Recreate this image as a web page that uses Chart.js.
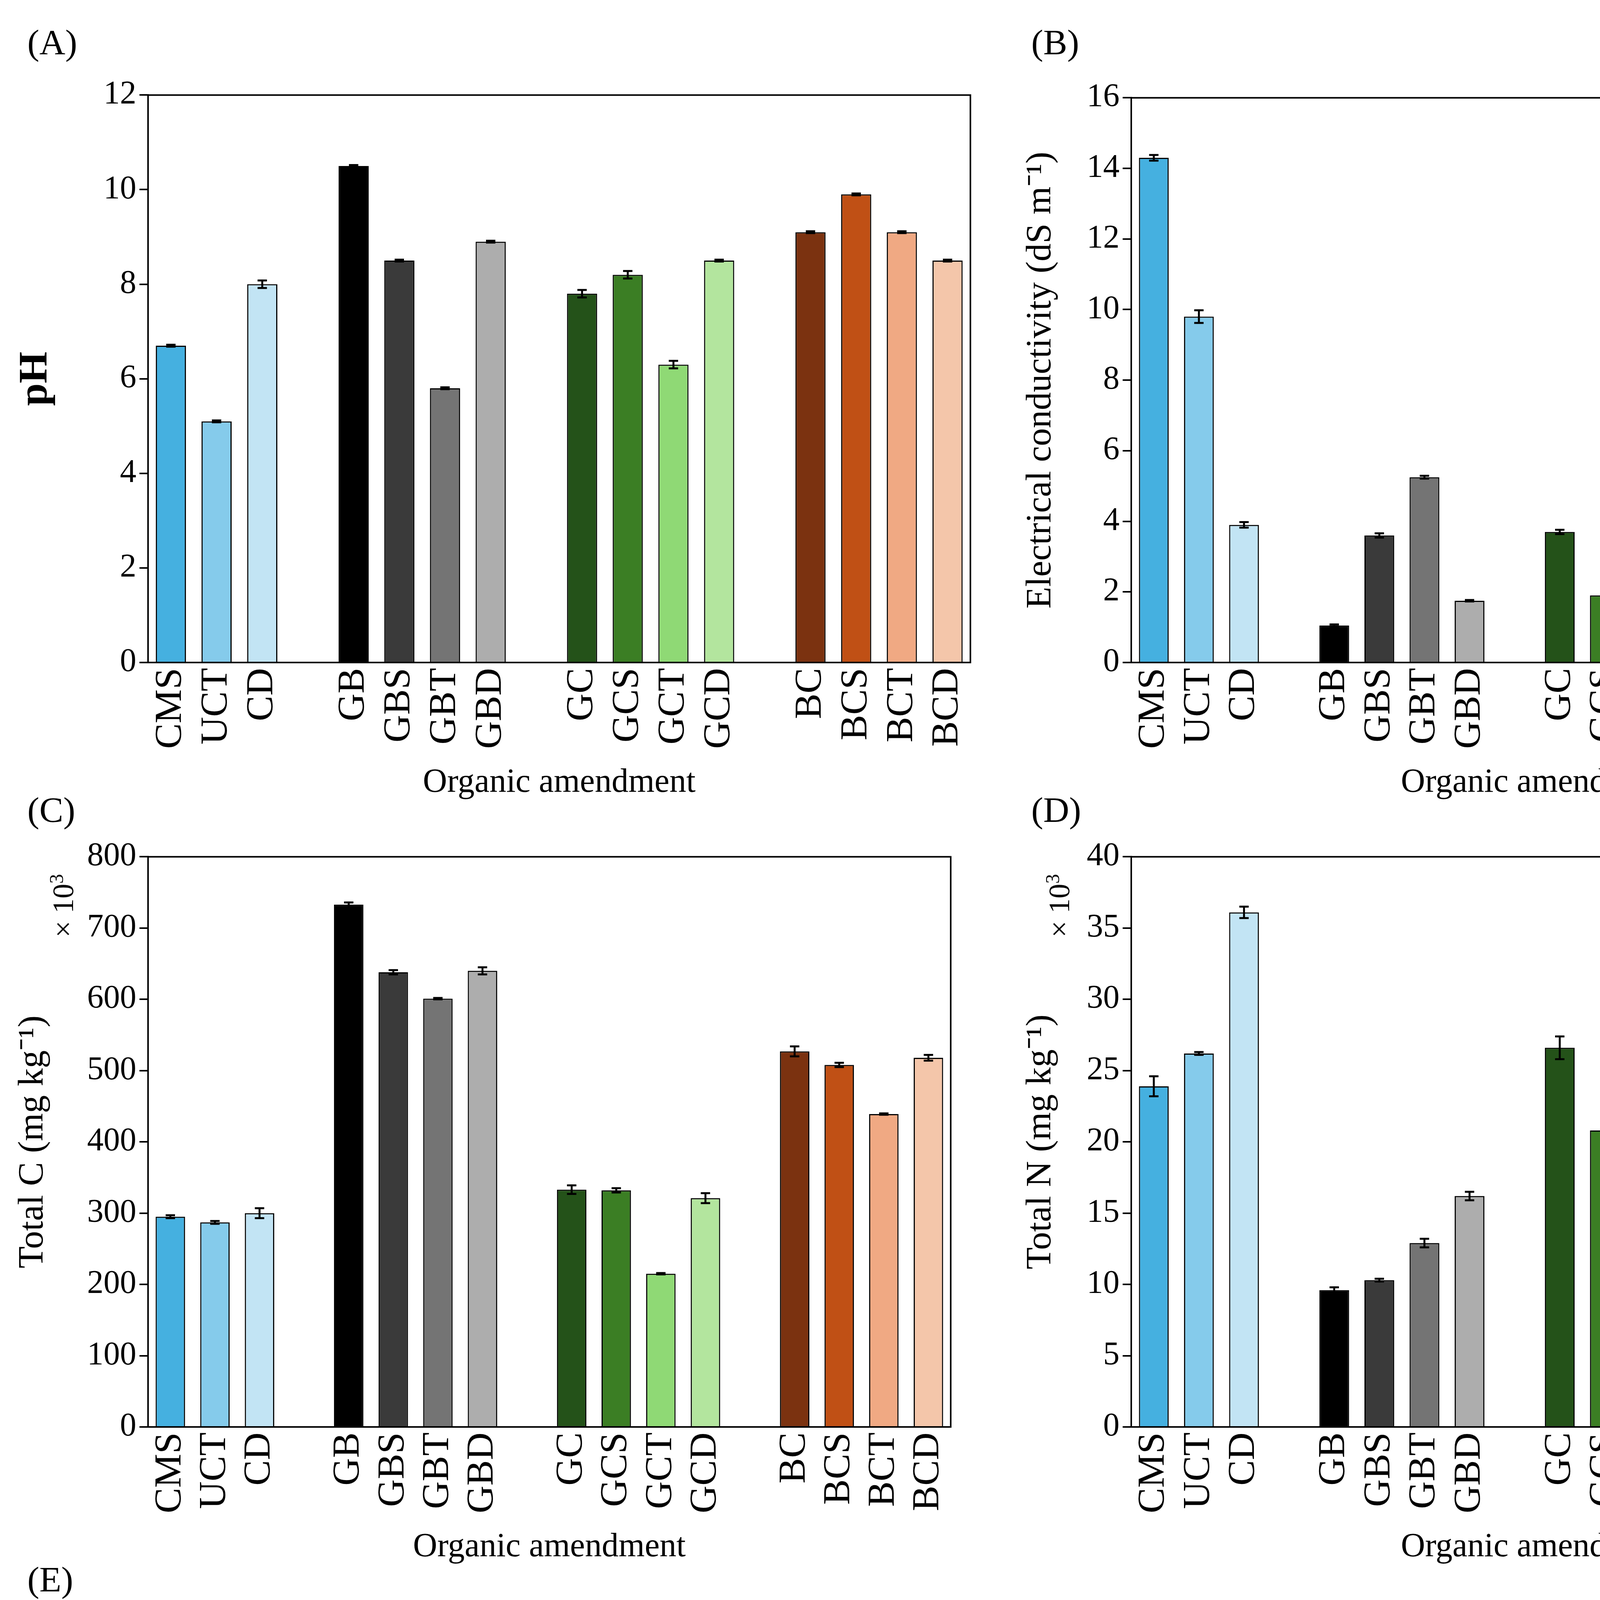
<!DOCTYPE html>
<html><head><meta charset="utf-8">
<script src="https://cdn.jsdelivr.net/npm/chart.js@4"></script>
<style>
body{margin:0;background:#fff;width:5035px;height:5945px;position:relative;overflow:hidden;font-family:"Liberation Serif","DejaVu Serif",serif}
canvas{position:absolute}
.lab{position:absolute;font-size:92px;color:#000}
.mult{position:absolute;font-size:76px;transform:rotate(-90deg);transform-origin:left top;white-space:nowrap}
</style></head><body>
<div class="lab" style="left:70px;top:55px">(A)</div>
<div class="lab" style="left:2640px;top:55px">(B)</div>
<div class="lab" style="left:70px;top:2020px">(C)</div>
<div class="lab" style="left:2640px;top:2020px">(D)</div>
<div class="lab" style="left:70px;top:3990px">(E)</div>
<div class="mult" style="left:115px;top:2400px">× 10<sup style="font-size:50px">3</sup></div>
<div class="mult" style="left:2665px;top:2400px">× 10<sup style="font-size:50px">3</sup></div>
<canvas id="cA"></canvas><canvas id="cB"></canvas><canvas id="cC"></canvas><canvas id="cD"></canvas><canvas id="cE"></canvas>
<script>
const labels = ["CMS","UCT","CD","","GB","GBS","GBT","GBD","","GC","GCS","GCT","GCD","","BC","BCS","BCT","BCD"];
const colors = ["#45b0e0","#85cbeb","#c2e4f4",null,"#000000","#3a3a3a","#747474","#adadad",null,"#245219","#3b7e24","#8fd975","#b3e59e",null,"#7b3210","#c05015","#f0a983","#f4c6aa"];

const ph = [6.7,5.1,8.0,null,10.5,8.5,5.8,8.9,null,7.8,8.2,6.3,8.5,null,9.1,9.9,9.1,8.5];
const phErr = [0.02,0.02,0.08,null,0.02,0.02,0.02,0.02,null,0.08,0.08,0.08,0.02,null,0.02,0.02,0.02,0.02];
const ec = [14.3,9.8,3.9,null,1.05,3.6,5.25,1.75,null,3.7,1.9,7.6,4.9,null,2.55,2.9,3.7,3.8];
const ecErr = [0.08,0.18,0.08,null,0.03,0.06,0.04,0.02,null,0.06,0.03,0.1,0.08,null,0.07,0.05,0.05,0.02];
const totalC = [295,287,300,null,733,638,601,640,null,333,332,215,321,null,527,508,439,518];
const totalCErr = [2,2,7,null,3,3,1,5,null,6,3,1,7,null,7,3,1,4];
const totalN = [23.9,26.2,36.1,null,9.6,10.3,12.9,16.2,null,26.6,20.8,21.5,27.8,null,19.2,19.0,18.0,21.6];
const totalNErr = [0.7,0.1,0.4,null,0.2,0.1,0.3,0.3,null,0.8,1.2,0.3,0.4,null,0.2,0.3,0.7,0.05];
const cn = [12.4,10.9,8.3,null,76.7,61.8,46.6,39.3,null,12.5,16.0,10.0,11.6,null,27.3,26.7,24.5,23.9];
const cnErr = [0.5,0.3,0.3,null,1.8,0.6,1.2,1.0,null,0.2,1.0,0.3,0.7,null,0.2,0.6,1.2,0.2];

const FONT = "'Liberation Serif', serif";

const extras = {
  id: "extras",
  afterDatasetsDraw(chart, args, opts) {
    const ctx = chart.ctx, y = chart.scales.y, x = chart.scales.x;
    ctx.save();
    ctx.strokeStyle = "#000"; ctx.lineWidth = 5;
    opts.err.forEach((e, i) => {
      const v = chart.data.datasets[0].data[i];
      if (v == null) return;
      const px = x.getPixelForValue(i), hi = y.getPixelForValue(v + e), lo = y.getPixelForValue(v - e);
      ctx.beginPath();
      ctx.moveTo(px, hi); ctx.lineTo(px, lo);
      ctx.moveTo(px - 12, hi); ctx.lineTo(px + 12, hi);
      ctx.moveTo(px - 12, lo); ctx.lineTo(px + 12, lo);
      ctx.stroke();
    });
    const a = chart.chartArea;
    ctx.lineWidth = 4;
    ctx.strokeRect(a.left, a.top, a.right - a.left, a.bottom - a.top);
    ctx.restore();
  }
};

function panel(id, canvasLeft, plotLeft, plotRight, plotTop, plotBottom, data, err, max, step, title, bold) {
  const c = document.getElementById(id);
  const padTop = 50, xh = 360;
  const W = plotRight + 60 - canvasLeft, H = plotBottom - plotTop + padTop + xh;
  c.width = W; c.height = H;
  c.style.left = canvasLeft + "px"; c.style.top = (plotTop - padTop) + "px";
  new Chart(c, {
    type: "bar",
    data: { labels: labels, datasets: [{ data: data, backgroundColor: colors, borderColor: "#000", borderWidth: 3,
      barPercentage: 0.66, categoryPercentage: 1 }] },
    options: {
      responsive: false, animation: false, devicePixelRatio: 1,
      layout: { padding: { top: padTop, right: 60, left: 0, bottom: 0 } },
      plugins: { legend: { display: false }, tooltip: { enabled: false }, extras: { err: err } },
      scales: {
        x: {
          grid: { display: false, drawTicks: false }, border: { color: "#000", width: 4 },
          ticks: { minRotation: 90, maxRotation: 90, autoSkip: false, padding: 14, color: "#000", font: { family: FONT, size: 98 } },
          title: { display: true, text: "Organic amendment", color: "#000", padding: 0, font: { family: FONT, size: 86 } },
          afterFit(s) { s.height = xh; }
        },
        y: {
          min: 0, max: max,
          grid: { drawOnChartArea: false, tickLength: 22, color: "#000", lineWidth: 4 }, border: { color: "#000", width: 4 },
          ticks: { stepSize: step, padding: 8, color: "#000", font: { family: FONT, size: 84 } },
          title: { display: true, text: title, color: "#000", padding: 10, font: { family: FONT, size: bold ? 104 : 92, weight: bold ? "bold" : "normal" } },
          afterFit(s) { s.width = plotLeft - canvasLeft; }
        }
      }
    },
    plugins: [extras]
  });
}

panel("cA", 20, 379, 2499, 235, 1696, ph, phErr, 12, 2, "pH", true);
panel("cB", 2600, 2896, 4990, 242, 1696, ec, ecErr, 16, 2, "Electrical conductivity (dS m\u207B\u00B9)", false);
panel("cC", 20, 379, 2450, 2185, 3653, totalC, totalCErr, 800, 100, "Total C (mg kg\u207B\u00B9)", false);
panel("cD", 2600, 2896, 4990, 2185, 3653, totalN, totalNErr, 40, 5, "Total N (mg kg\u207B\u00B9)", false);
panel("cE", 20, 367, 2450, 4157, 5577, cn, cnErr, 90, 10, "C/N ratio", false);
</script></body></html>
